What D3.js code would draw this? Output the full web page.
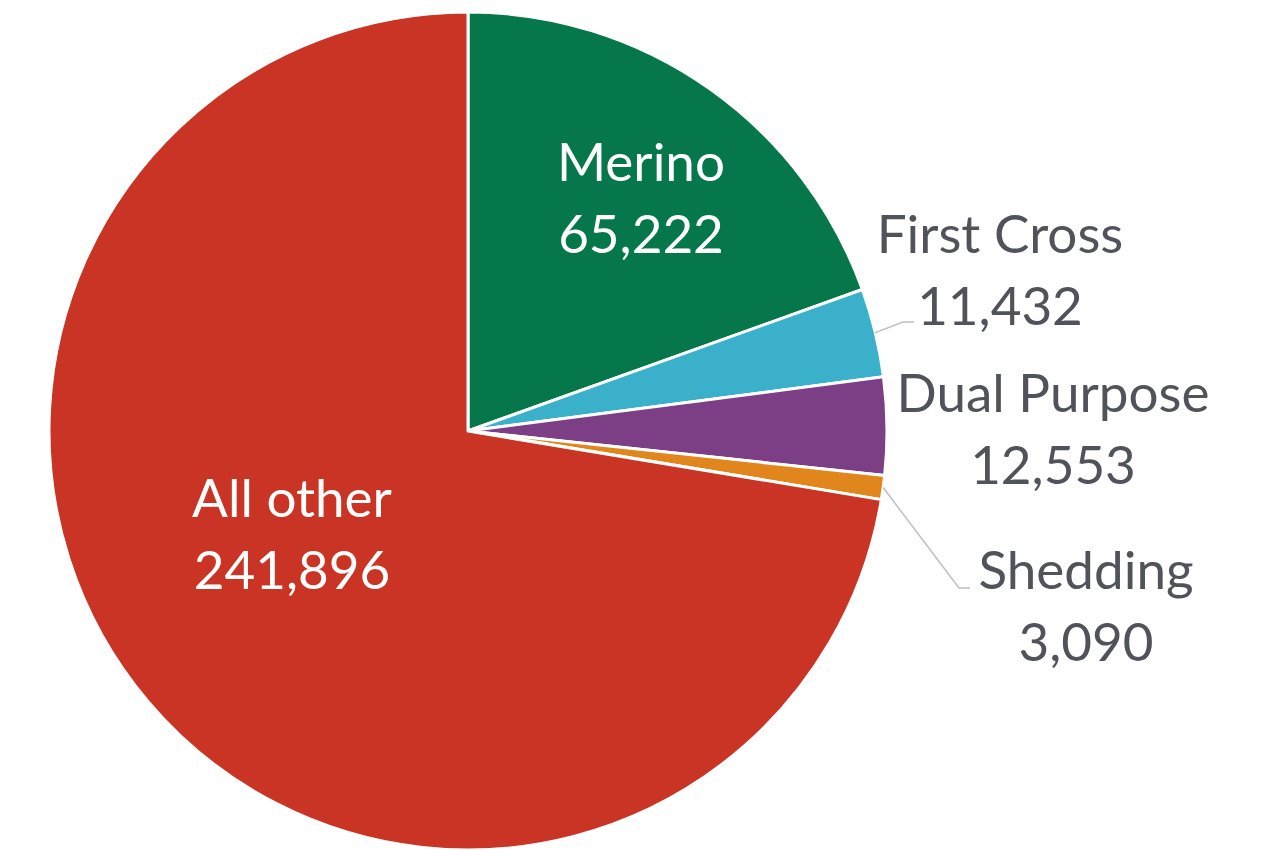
<!DOCTYPE html>
<html>
<head>
<meta charset="utf-8">
<script src="https://cdn.jsdelivr.net/npm/d3@7"></script>
<style>
  html, body { margin: 0; padding: 0; background: #ffffff; }
  svg { display: block; }
</style>
</head>
<body>
<svg id="chart" width="1287" height="850"></svg>
<script>
// Sheep flock breakdown by breed type
const categories = ["Merino", "First Cross", "Dual Purpose", "Shedding", "All other"];
const values = [65222, 11432, 12553, 3090, 241896];
const valueLabels = ["65,222", "11,432", "12,553", "3,090", "241,896"];
const colors = ["#06774A", "#3BB0CA", "#7C3F85", "#E0861C", "#C93424"];

const width = 1287, height = 850;
const cx = 468, cy = 431, radius = 419;
const fontFamily = "Lato, 'Open Sans', sans-serif";
const fontSize = 53;
const lineGap = 72;

const svg = d3.select("#chart");
const g = svg.append("g").attr("transform", `translate(${cx},${cy})`);

const data = categories.map((c, i) => ({ name: c, value: values[i], label: valueLabels[i], color: colors[i] }));

const pie = d3.pie().value(d => d.value).sort(null);
const arc = d3.arc().innerRadius(0).outerRadius(radius);
const arcs = pie(data);

g.selectAll("path.slice")
  .data(arcs)
  .join("path")
  .attr("class", "slice")
  .attr("d", arc)
  .attr("fill", d => d.data.color)
  .attr("stroke", "#ffffff")
  .attr("stroke-width", 3)
  .attr("stroke-linejoin", "round");

// Label placement: inside labels for the big slices, outside with leaders for the small ones.
// Offsets are relative to the pie centre.
const labelLayout = {
  "Merino":       { x: 173,  y: -233, inside: true },
  "First Cross":  { x: 532,  y: -161, inside: false, leader: [[435, -109], [446, -109]] },
  "Dual Purpose": { x: 585,  y: -2,   inside: false },
  "Shedding":     { x: 618,  y: 175,  inside: false, leader: [[491, 157], [502, 157]] },
  "All other":    { x: -176, y: 103,  inside: true }
};

const outerPoint = d => {
  const a = (d.startAngle + d.endAngle) / 2;
  return [radius * Math.sin(a), -radius * Math.cos(a)];
};

// Leader lines from slice edge to label
arcs.forEach(d => {
  const lay = labelLayout[d.data.name];
  if (!lay.leader) return;
  const pts = [outerPoint(d)].concat(lay.leader);
  g.append("path")
    .attr("d", d3.line()(pts))
    .attr("fill", "none")
    .attr("stroke", "#BFBFBF")
    .attr("stroke-width", 1.5);
});

// Two-line labels: category name and value
arcs.forEach(d => {
  const lay = labelLayout[d.data.name];
  const t = g.append("text")
    .attr("text-anchor", "middle")
    .attr("font-family", fontFamily)
    .attr("font-size", fontSize)
    .attr("fill", lay.inside ? "#ffffff" : "#50535A");
  t.append("tspan")
    .attr("x", lay.x)
    .attr("y", lay.y - lineGap / 2 + 19)
    .text(d.data.name);
  t.append("tspan")
    .attr("x", lay.x)
    .attr("y", lay.y + lineGap / 2 + 19)
    .text(d.data.label);
});
</script>
</body>
</html>
